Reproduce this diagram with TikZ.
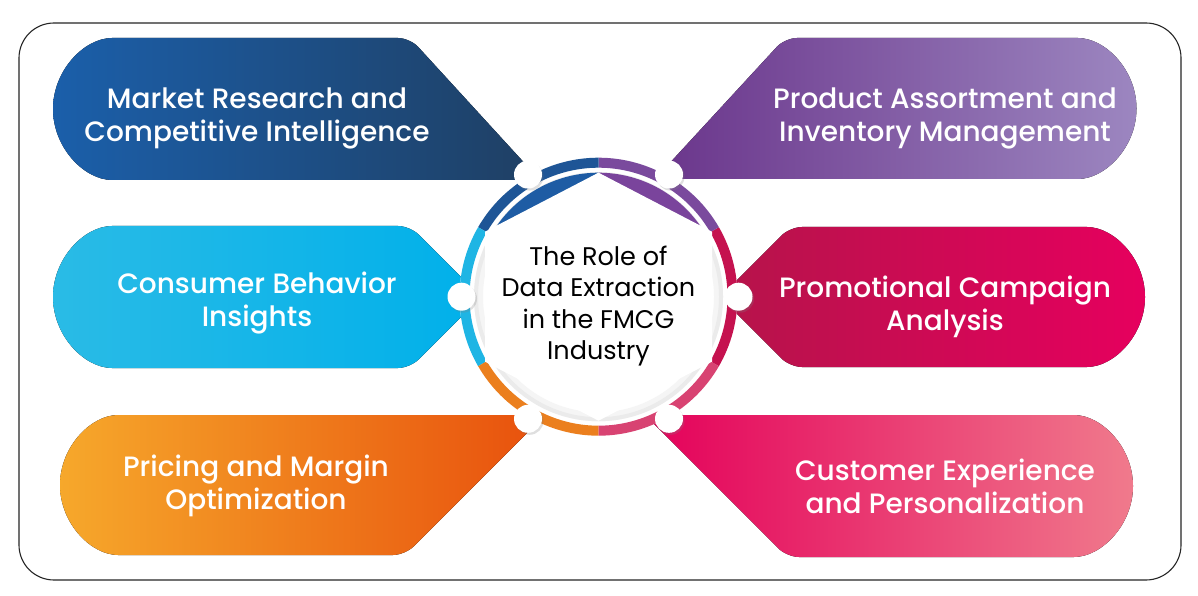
\documentclass[tikz,border=0pt]{standalone}
\usepackage{fontspec}
\setmainfont{Poppins}
\newfontfamily\boxfont{Poppins Medium}
\usetikzlibrary{shadows}
\definecolor{mrL}{HTML}{1B5FAA}\definecolor{mrR}{HTML}{1F3F63}
\definecolor{paL}{HTML}{6A358B}\definecolor{paR}{HTML}{9C86C0}
\definecolor{cbL}{HTML}{2ABBE6}\definecolor{cbR}{HTML}{00B0EA}
\definecolor{pcL}{HTML}{B5144A}\definecolor{pcR}{HTML}{E6005E}
\definecolor{ppL}{HTML}{F6A82B}\definecolor{ppR}{HTML}{E8500D}
\definecolor{ceL}{HTML}{E4005A}\definecolor{ceR}{HTML}{F07A8C}
\definecolor{rBlue}{HTML}{1E5596}\definecolor{rPurple}{HTML}{7A4A9D}
\definecolor{rCrim}{HTML}{C5124F}\definecolor{rPink}{HTML}{D84372}
\definecolor{rOrange}{HTML}{EB7F1E}\definecolor{rCyan}{HTML}{1FB5E4}
\definecolor{leafBlue}{HTML}{1E5CA4}\definecolor{leafPurple}{HTML}{7A449C}
\tikzset{
  boxtext/.style={text=white,font=\boxfont\fontsize{28}{33}\selectfont,align=center,inner sep=0pt},
  titletext/.style={text=black,font=\fontsize{25.5}{31.5}\selectfont,align=center,inner sep=0pt},
  dot/.style={circle,fill=white,minimum size=28pt,inner sep=0pt,
    drop shadow={opacity=0.25,shadow xshift=1.5pt,shadow yshift=-2pt}},
  frame/.style={draw=black!85,line width=1.1pt,rounded corners=35pt},
  boxshape/.style={rounded corners=12pt}
}
\newcommand\ringseg[3]{\fill[#1,shift={(598.5,298.3)}] (#2:139) arc[start angle=#2,end angle=#3,radius=139] -- (#3:129) arc[start angle=#3,end angle=#2,radius=129] -- cycle;}
\begin{document}
\begin{tikzpicture}[x=1pt,y=1pt]
\useasboundingbox (0,0) rectangle (1198,595);
\fill[white] (0,0) rectangle (1198,595);
\draw[frame] (19,15) rectangle (1181,572);
% boxes
\fill[boxshape,left color=mrL,right color=mrR] (124,415) arc[start angle=270,end angle=90,radius=71] -- (410,557) -- (540,415) -- cycle;
\fill[boxshape,left color=paL,right color=paR] (1066,416) arc[start angle=-90,end angle=90,radius=70.5] -- (785,557) -- (655,416) -- cycle;
\fill[boxshape,left color=cbL,right color=cbR] (124,227) arc[start angle=270,end angle=90,radius=71] -- (410,369) -- (481,298) -- (410,227) -- cycle;
\fill[boxshape,left color=pcL,right color=pcR] (1075,228) arc[start angle=-90,end angle=90,radius=70] -- (790,368) -- (720,298) -- (790,228) -- cycle;
\fill[boxshape,left color=ppL,right color=ppR] (130,180) arc[start angle=90,end angle=270,radius=70] -- (405,40) -- (545,180) -- cycle;
\fill[boxshape,left color=ceL,right color=ceR] (1062,38) arc[start angle=-90,end angle=90,radius=71] -- (645,180) -- (787,38) -- cycle;
% circle base
\fill[white] (598.5,298.3) circle[radius=139];
\ringseg{rCrim}{-30}{30}
\ringseg{rPurple}{30}{90}
\ringseg{rBlue}{90}{150}
\ringseg{rCyan}{150}{210}
\ringseg{rOrange}{210}{270}
\ringseg{rPink}{270}{330}
% inner shadow
\begin{scope}[shift={(598.5,298.3)}]
\draw[black!4,line width=9pt] (0,0) circle[radius=120];
\draw[black!8,line width=4pt] (0,0) circle[radius=122.5];
\fill[leafBlue] (145:124) arc[start angle=145,end angle=90,radius=124] .. controls (-50,96) .. (145:124);
\fill[leafPurple] (35:124) arc[start angle=35,end angle=90,radius=124] .. controls (50,96) .. (35:124);
\fill[white] (0,124) -- (-113.5,65) -- (-113.5,-65) -- (0,-124) -- (113.5,-65) -- (113.5,65) -- cycle;
\node[dot] (d0) at (0:140) {};
\node[dot] (d60) at (60:141) {};
\node[dot] (d120) at (120:141) {};
\node[dot] (d180) at (180:137) {};
\node[dot] (d240) at (240:141) {};
\node[dot] (d300) at (300:141) {};
\end{scope}
% texts
\node[titletext] (title) at (598.5,289) {The Role of\\Data Extraction\\in the FMCG\\Industry};
\node[boxtext] (t1) at (257,477) {Market Research and\\Competitive Intelligence};
\node[boxtext] (t2) at (945,477) {Product Assortment and\\Inventory Management};
\node[boxtext] (t3) at (257,292) {Consumer Behavior\\Insights};
\node[boxtext] (t4) at (945,288) {Promotional Campaign\\Analysis};
\node[boxtext] (t5) at (256,109) {Pricing and Margin\\Optimization};
\node[boxtext] (t6) at (945,109) {Customer Experience\\and Personalization};
\end{tikzpicture}
\end{document}
